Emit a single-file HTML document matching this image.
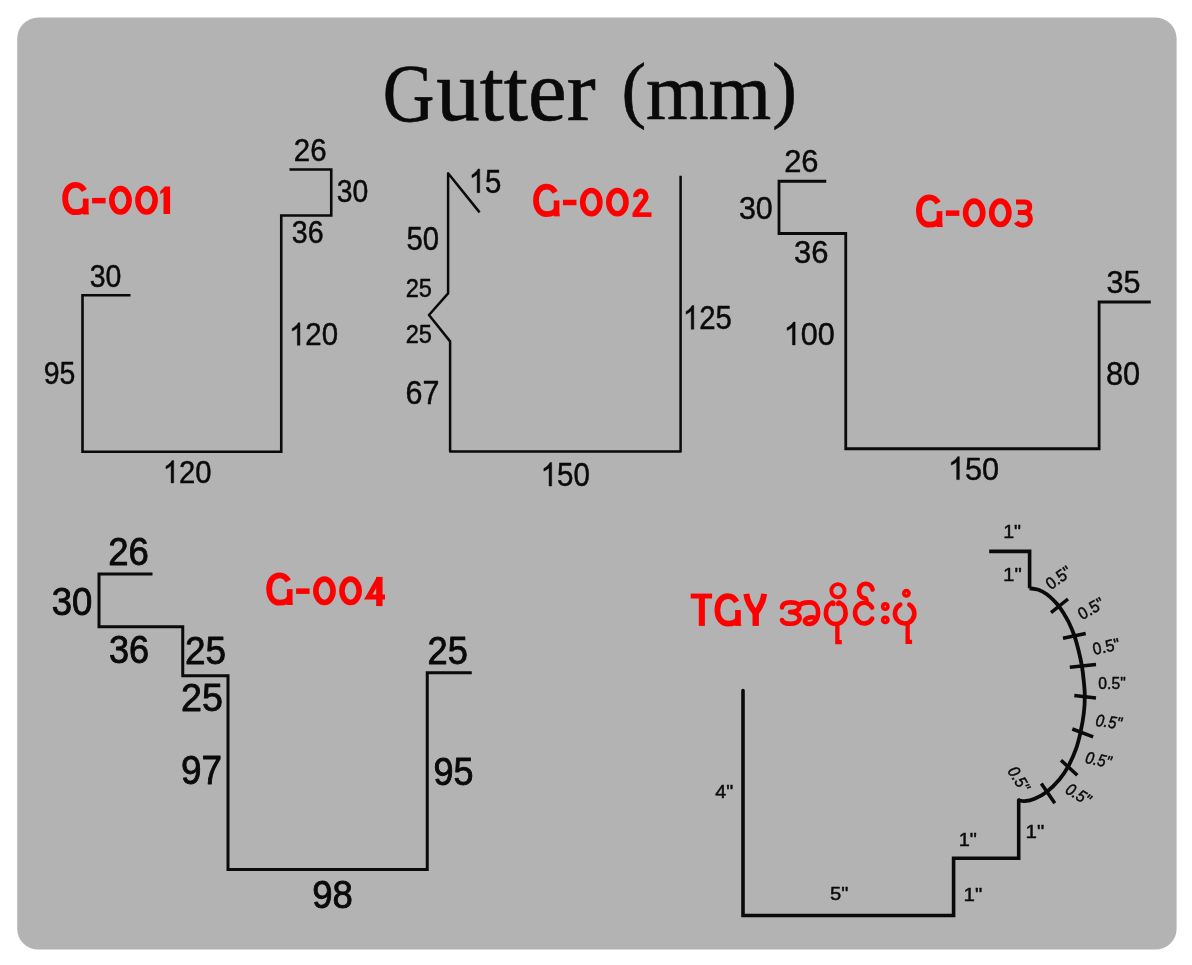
<!DOCTYPE html>
<html>
<head>
<meta charset="utf-8">
<title>Gutter (mm)</title>
<style>
html,body{margin:0;padding:0;background:#fff;}
body{width:1192px;height:965px;overflow:hidden;font-family:"Liberation Sans",sans-serif;}
svg{display:block;will-change:transform;}
</style>
</head>
<body>
<svg width="1192" height="965" viewBox="0 0 1192 965">
<rect x="17.2" y="17.6" width="1159.4" height="932" rx="21" ry="21" fill="#b3b3b3"/>
<g fill="#0a0a0a" stroke="#0a0a0a" stroke-linejoin="round">
<g transform="matrix(0.2941 0 0 0.3099 293.83 161.49)"><text x="0" y="0" font-family="Liberation Sans" font-size="100" font-style="normal" stroke-width="1.49">26</text></g>
<g transform="matrix(0.2835 0 0 0.3070 336.67 202.39)"><text x="0" y="0" font-family="Liberation Sans" font-size="100" font-style="normal" stroke-width="1.52">30</text></g>
<g transform="matrix(0.2854 0 0 0.3113 291.76 243.19)"><text x="0" y="0" font-family="Liberation Sans" font-size="100" font-style="normal" stroke-width="1.51">36</text></g>
<g transform="matrix(0.2947 0 0 0.3110 288.96 345.19)"><path transform="translate(0.0 0)" d="M37.26,0 H28.47 V-56.0 Q25.3,-52.98 20.14,-49.95 Q14.99,-46.92 10.89,-45.41 V-53.9 Q18.26,-57.37 23.78,-62.3 Q29.3,-67.24 31.59,-71.88 H37.26 Z" stroke-width="1.49"/><text x="55.6" y="0" font-family="Liberation Sans" font-size="100" font-style="normal" stroke-width="1.49">20</text></g>
<g transform="matrix(0.2845 0 0 0.3141 89.66 287.39)"><text x="0" y="0" font-family="Liberation Sans" font-size="100" font-style="normal" stroke-width="1.50">30</text></g>
<g transform="matrix(0.2843 0 0 0.3070 43.68 383.89)"><text x="0" y="0" font-family="Liberation Sans" font-size="100" font-style="normal" stroke-width="1.52">95</text></g>
<g transform="matrix(0.2928 0 0 0.3103 162.78 482.89)"><path transform="translate(0.0 0)" d="M37.26,0 H28.47 V-56.0 Q25.3,-52.98 20.14,-49.95 Q14.99,-46.92 10.89,-45.41 V-53.9 Q18.26,-57.37 23.78,-62.3 Q29.3,-67.24 31.59,-71.88 H37.26 Z" stroke-width="1.49"/><text x="55.6" y="0" font-family="Liberation Sans" font-size="100" font-style="normal" stroke-width="1.49">20</text></g>
<g transform="matrix(0.2937 0 0 0.3301 468.77 192.67)"><path transform="translate(0.0 0)" d="M37.26,0 H28.47 V-56.0 Q25.3,-52.98 20.14,-49.95 Q14.99,-46.92 10.89,-45.41 V-53.9 Q18.26,-57.37 23.78,-62.3 Q29.3,-67.24 31.59,-71.88 H37.26 Z" stroke-width="1.44"/><text x="55.6" y="0" font-family="Liberation Sans" font-size="100" font-style="normal" stroke-width="1.44">5</text></g>
<g transform="matrix(0.2932 0 0 0.3408 406.43 249.76)"><text x="0" y="0" font-family="Liberation Sans" font-size="100" font-style="normal" stroke-width="1.42">50</text></g>
<g transform="matrix(0.2363 0 0 0.2648 405.72 297.14)"><text x="0" y="0" font-family="Liberation Sans" font-size="100" font-style="normal" stroke-width="1.80">25</text></g>
<g transform="matrix(0.2363 0 0 0.2648 405.72 343.44)"><text x="0" y="0" font-family="Liberation Sans" font-size="100" font-style="normal" stroke-width="1.80">25</text></g>
<g transform="matrix(0.3050 0 0 0.3394 405.48 404.36)"><text x="0" y="0" font-family="Liberation Sans" font-size="100" font-style="normal" stroke-width="1.40">67</text></g>
<g transform="matrix(0.2954 0 0 0.3260 540.65 485.97)"><path transform="translate(0.0 0)" d="M37.26,0 H28.47 V-56.0 Q25.3,-52.98 20.14,-49.95 Q14.99,-46.92 10.89,-45.41 V-53.9 Q18.26,-57.37 23.78,-62.3 Q29.3,-67.24 31.59,-71.88 H37.26 Z" stroke-width="1.45"/><text x="55.6" y="0" font-family="Liberation Sans" font-size="100" font-style="normal" stroke-width="1.45">50</text></g>
<g transform="matrix(0.2934 0 0 0.3288 682.87 329.17)"><path transform="translate(0.0 0)" d="M37.26,0 H28.47 V-56.0 Q25.3,-52.98 20.14,-49.95 Q14.99,-46.92 10.89,-45.41 V-53.9 Q18.26,-57.37 23.78,-62.3 Q29.3,-67.24 31.59,-71.88 H37.26 Z" stroke-width="1.45"/><text x="55.6" y="0" font-family="Liberation Sans" font-size="100" font-style="normal" stroke-width="1.45">25</text></g>
<g transform="matrix(0.3088 0 0 0.3211 784.16 172.28)"><text x="0" y="0" font-family="Liberation Sans" font-size="100" font-style="normal" stroke-width="1.43">26</text></g>
<g transform="matrix(0.3049 0 0 0.3211 738.88 218.98)"><text x="0" y="0" font-family="Liberation Sans" font-size="100" font-style="normal" stroke-width="1.44">30</text></g>
<g transform="matrix(0.3097 0 0 0.3211 794.06 263.08)"><text x="0" y="0" font-family="Liberation Sans" font-size="100" font-style="normal" stroke-width="1.43">36</text></g>
<g transform="matrix(0.3059 0 0 0.3178 783.73 344.88)"><path transform="translate(0.0 0)" d="M37.26,0 H28.47 V-56.0 Q25.3,-52.98 20.14,-49.95 Q14.99,-46.92 10.89,-45.41 V-53.9 Q18.26,-57.37 23.78,-62.3 Q29.3,-67.24 31.59,-71.88 H37.26 Z" stroke-width="1.44"/><text x="55.6" y="0" font-family="Liberation Sans" font-size="100" font-style="normal" stroke-width="1.44">00</text></g>
<g transform="matrix(0.3058 0 0 0.3225 1106.38 292.93)"><text x="0" y="0" font-family="Liberation Sans" font-size="100" font-style="normal" stroke-width="1.43">35</text></g>
<g transform="matrix(0.3078 0 0 0.3282 1105.97 385.27)"><text x="0" y="0" font-family="Liberation Sans" font-size="100" font-style="normal" stroke-width="1.42">80</text></g>
<g transform="matrix(0.3072 0 0 0.3192 947.92 479.58)"><path transform="translate(0.0 0)" d="M37.26,0 H28.47 V-56.0 Q25.3,-52.98 20.14,-49.95 Q14.99,-46.92 10.89,-45.41 V-53.9 Q18.26,-57.37 23.78,-62.3 Q29.3,-67.24 31.59,-71.88 H37.26 Z" stroke-width="1.44"/><text x="55.6" y="0" font-family="Liberation Sans" font-size="100" font-style="normal" stroke-width="1.44">50</text></g>
<g transform="matrix(0.3652 0 0 0.3958 108.17 565.20)"><text x="0" y="0" font-family="Liberation Sans" font-size="100" font-style="normal" stroke-width="2.23">26</text></g>
<g transform="matrix(0.3655 0 0 0.3937 51.64 615.31)"><text x="0" y="0" font-family="Liberation Sans" font-size="100" font-style="normal" stroke-width="2.24">30</text></g>
<g transform="matrix(0.3612 0 0 0.3915 108.96 662.51)"><text x="0" y="0" font-family="Liberation Sans" font-size="100" font-style="normal" stroke-width="2.26">36</text></g>
<g transform="matrix(0.3696 0 0 0.3803 185.05 663.72)"><text x="0" y="0" font-family="Liberation Sans" font-size="100" font-style="normal" stroke-width="2.27">25</text></g>
<g transform="matrix(0.3770 0 0 0.3873 181.02 711.21)"><text x="0" y="0" font-family="Liberation Sans" font-size="100" font-style="normal" stroke-width="2.22">25</text></g>
<g transform="matrix(0.3683 0 0 0.3972 181.06 783.70)"><text x="0" y="0" font-family="Liberation Sans" font-size="100" font-style="normal" stroke-width="2.22">97</text></g>
<g transform="matrix(0.3623 0 0 0.3873 427.59 664.21)"><text x="0" y="0" font-family="Liberation Sans" font-size="100" font-style="normal" stroke-width="2.27">25</text></g>
<g transform="matrix(0.3598 0 0 0.3915 433.60 785.01)"><text x="0" y="0" font-family="Liberation Sans" font-size="100" font-style="normal" stroke-width="2.26">95</text></g>
<g transform="matrix(0.3647 0 0 0.3944 312.33 908.01)"><text x="0" y="0" font-family="Liberation Sans" font-size="100" font-style="normal" stroke-width="2.24">98</text></g>
<g transform="matrix(0.1962 0 0 0.1812 1003.18 537.50)"><text x="0" y="0" font-family="Liberation Sans" font-size="100" font-style="normal" stroke-width="2.38">1&quot;</text></g>
<g transform="matrix(0.2057 0 0 0.1920 1003.10 581.25)"><text x="0" y="0" font-family="Liberation Sans" font-size="100" font-style="normal" stroke-width="2.26">1&quot;</text></g>
<g transform="matrix(0.2057 0 0 0.1920 1025.60 837.50)"><text x="0" y="0" font-family="Liberation Sans" font-size="100" font-style="normal" stroke-width="2.26">1&quot;</text></g>
<g transform="matrix(0.1994 0 0 0.1812 958.66 846.25)"><text x="0" y="0" font-family="Liberation Sans" font-size="100" font-style="normal" stroke-width="2.37">1&quot;</text></g>
<g transform="matrix(0.2057 0 0 0.1884 963.60 900.50)"><text x="0" y="0" font-family="Liberation Sans" font-size="100" font-style="normal" stroke-width="2.28">1&quot;</text></g>
<g transform="matrix(0.1971 0 0 0.1838 715.36 797.68)"><text x="0" y="0" font-family="Liberation Sans" font-size="100" font-style="normal" stroke-width="2.36">4&quot;</text></g>
<g transform="matrix(0.2018 0 0 0.1857 829.94 900.31)"><text x="0" y="0" font-family="Liberation Sans" font-size="100" font-style="normal" stroke-width="2.32">5&quot;</text></g>
<g transform="matrix(0.7154 0 0 0.8299 382.64 120.54)"><text x="0" y="0" font-family="Liberation Serif" font-size="100" font-style="normal" stroke-width="0.78">G</text></g>
<g transform="matrix(0.8707 0 0 0.8772 436.13 120.42)"><text x="0" y="0" font-family="Liberation Serif" font-size="100" font-style="normal" stroke-width="0.69">utter</text></g>
<g transform="matrix(0.7404 0 0 0.7500 621.54 113.75)"><text x="0" y="0" font-family="Liberation Serif" font-size="100" font-style="normal" stroke-width="0.81">(</text></g>
<g transform="matrix(0.8059 0 0 0.8043 645.89 119.30)"><text x="0" y="0" font-family="Liberation Serif" font-size="100" font-style="normal" stroke-width="0.75">mm</text></g>
<g transform="matrix(0.7404 0 0 0.7500 772.28 113.75)"><text x="0" y="0" font-family="Liberation Serif" font-size="100" font-style="normal" stroke-width="0.81">)</text></g>
<text transform="translate(1058.50 577.60) rotate(-35) translate(-13.63 5.83) scale(0.1566 0.1690)" font-family="Liberation Sans" font-size="100" font-style="normal" stroke-width="2.76">0.5&quot;</text>
<text transform="translate(1091.00 608.50) rotate(-30) translate(-13.63 5.83) scale(0.1566 0.1690)" font-family="Liberation Sans" font-size="100" font-style="normal" stroke-width="2.76">0.5&quot;</text>
<text transform="translate(1106.00 646.40) rotate(-12) translate(-13.63 5.83) scale(0.1566 0.1690)" font-family="Liberation Sans" font-size="100" font-style="normal" stroke-width="2.76">0.5&quot;</text>
<text transform="translate(1112.00 683.50) rotate(0) translate(-13.63 5.83) scale(0.1566 0.1690)" font-family="Liberation Sans" font-size="100" font-style="normal" stroke-width="2.76">0.5&quot;</text>
<text transform="translate(1109.40 721.80) rotate(8) translate(-13.60 5.83) scale(0.1494 0.1690)" font-family="Liberation Sans" font-size="100" font-style="italic" stroke-width="2.83">0.5&quot;</text>
<text transform="translate(1098.90 759.80) rotate(12) translate(-13.60 5.83) scale(0.1494 0.1690)" font-family="Liberation Sans" font-size="100" font-style="italic" stroke-width="2.83">0.5&quot;</text>
<text transform="translate(1078.80 794.40) rotate(32) translate(-13.60 5.83) scale(0.1494 0.1690)" font-family="Liberation Sans" font-size="100" font-style="italic" stroke-width="2.83">0.5&quot;</text>
<text transform="translate(1019.20 779.40) rotate(58) translate(-13.60 5.83) scale(0.1494 0.1690)" font-family="Liberation Sans" font-size="100" font-style="italic" stroke-width="2.83">0.5&quot;</text>
</g>
<g fill="none" stroke="#0a0a0a" stroke-linejoin="miter" stroke-linecap="butt">
<path d="M130.5,295.25 H82.5 V451.75 H281.25 V215.5 H331.25 V169.5 H289.5" stroke-width="2.6"/>
<path d="M479.6,212.4 L448.1,173.2 V293.4 L429,315 L450.1,341.4 V451.5 H680.6 V175.75" stroke-width="2.5" stroke-linejoin="round"/>
<path d="M826.25,181.25 H779 V233.5 H845.75 V448.75 H1099.1 V302 H1150.75" stroke-width="2.8"/>
<path d="M152.5,574 H99 V626.75 H182.75 V675.75 H228 V869.5 H427.25 V672.75 H471.75" stroke-width="3.0"/>
<path d="M989.2,551.4 H1029.6 V588.3" stroke-width="3.6"/>
<path d="M1029.6,588.3 C1031.07,588.55 1035.53,588.80 1038.40,589.80 C1041.27,590.80 1044.02,592.30 1046.80,594.30 C1049.58,596.30 1053.02,599.72 1055.10,601.80 C1057.18,603.88 1057.90,604.93 1059.30,606.80 C1060.70,608.67 1061.97,610.50 1063.50,613.00 C1065.03,615.50 1066.70,618.05 1068.50,621.80 C1070.30,625.55 1072.63,630.77 1074.30,635.50 C1075.97,640.23 1077.25,645.23 1078.50,650.20 C1079.75,655.17 1080.93,660.30 1081.80,665.30 C1082.67,670.30 1083.20,675.10 1083.70,680.20 C1084.20,685.30 1084.78,690.37 1084.80,695.90 C1084.82,701.43 1084.50,707.42 1083.80,713.40 C1083.10,719.38 1081.87,725.98 1080.60,731.80 C1079.33,737.62 1078.22,742.63 1076.20,748.30 C1074.18,753.97 1071.27,760.65 1068.50,765.80 C1065.73,770.95 1063.25,774.83 1059.60,779.20 C1055.95,783.57 1050.77,788.75 1046.60,792.00 C1042.43,795.25 1038.27,797.18 1034.60,798.70 C1030.93,800.22 1027.25,800.85 1024.60,801.10 C1021.95,801.35 1019.68,800.35 1018.70,800.20" stroke-width="3.8"/>
<path d="M1018.7,800 V858.2 H953.6 V915.5 H743 V690.5" stroke-width="3.6" stroke-linecap="round"/>
<path d="M1051,612.6 L1068,599" stroke-width="3.5"/>
<path d="M1063,638.2 L1085.7,633.5" stroke-width="3.5"/>
<path d="M1069.8,667.2 L1096,664.4" stroke-width="3.5"/>
<path d="M1074.3,695.6 L1096,698.1" stroke-width="3.5"/>
<path d="M1072.3,729 L1093.2,736.8" stroke-width="3.5"/>
<path d="M1061,760.2 L1077.3,775.2" stroke-width="3.5"/>
<path d="M1041.3,783.5 L1054.8,803.2" stroke-width="3.5"/>
</g>
<g transform="translate(62.25 181.9)" fill="none" stroke="#f00" stroke-width="5.6">
<path d="M22.1,8.6 C20,4.9 17,2.9 13.4,2.9 C7,2.9 2.9,8.5 2.9,16.6 C2.9,24.7 7,30.3 13.4,30.3 C18.5,30.3 22,28.6 23.3,25.5" stroke-width="5.8"/><path d="M23.45,16.7 V32.6" stroke-width="5.7"/><path d="M26.2,28.5 L26.9,32.6 H26.2 Z" fill="#f00" stroke="none"/>
<path d="M29.85,18.75 H43.35" stroke-width="5.5"/>
<ellipse cx="58.2" cy="18.4" rx="8.6" ry="11.65" stroke-width="5.6"/>
<ellipse cx="84.3" cy="18.4" rx="8.6" ry="11.65" stroke-width="5.6"/>
<path d="M107.85,4.5 H102.6 L98,9.4 V12.4 L101.25,10.4 V32 H107.85 Z" fill="#f00" stroke="none"/>
</g>
<g transform="translate(533.1 183.75)" fill="none" stroke="#f00" stroke-width="5.6">
<path d="M22.1,8.6 C20,4.9 17,2.9 13.4,2.9 C7,2.9 2.9,8.5 2.9,16.6 C2.9,24.7 7,30.3 13.4,30.3 C18.5,30.3 22,28.6 23.3,25.5" stroke-width="5.8"/><path d="M23.45,16.7 V32.6" stroke-width="5.7"/><path d="M26.2,28.5 L26.9,32.6 H26.2 Z" fill="#f00" stroke="none"/>
<path d="M29.85,18.75 H43.35" stroke-width="5.5"/>
<ellipse cx="58.2" cy="18.4" rx="8.6" ry="11.65" stroke-width="5.6"/>
<ellipse cx="84.3" cy="18.4" rx="8.6" ry="11.65" stroke-width="5.6"/>
<path d="M102.6,13.4 A5.1,5.6 0 1 1 112.3,15.4 L102.2,29.4" stroke-width="5.2"/>
<path d="M99.4,30.9 H118.4" stroke-width="4.6"/>
</g>
<g transform="translate(916 194.4)" fill="none" stroke="#f00" stroke-width="5.6">
<path d="M22.1,8.6 C20,4.9 17,2.9 13.4,2.9 C7,2.9 2.9,8.5 2.9,16.6 C2.9,24.7 7,30.3 13.4,30.3 C18.5,30.3 22,28.6 23.3,25.5" stroke-width="5.8"/><path d="M23.45,16.7 V32.6" stroke-width="5.7"/><path d="M26.2,28.5 L26.9,32.6 H26.2 Z" fill="#f00" stroke="none"/>
<path d="M29.85,18.75 H43.35" stroke-width="5.5"/>
<ellipse cx="58.2" cy="18.4" rx="8.6" ry="11.65" stroke-width="5.6"/>
<ellipse cx="84.3" cy="18.4" rx="8.6" ry="11.65" stroke-width="5.6"/>
<path d="M100,7.6 H108.5 C112,7.6 113.7,9.5 113.7,12.6 C113.7,15.8 111.5,18 107.5,18 H101.8 M107.5,18 C112,18 114.4,20.8 114.4,24.4 C114.4,28.3 111.5,30.8 107,30.8 C104,30.8 101.5,29.8 100.2,27.6" stroke-width="5"/>
</g>
<g transform="translate(266.25 572.4)" fill="none" stroke="#f00" stroke-width="5.6">
<path d="M22.1,8.6 C20,4.9 17,2.9 13.4,2.9 C7,2.9 2.9,8.5 2.9,16.6 C2.9,24.7 7,30.3 13.4,30.3 C18.5,30.3 22,28.6 23.3,25.5" stroke-width="5.8"/><path d="M23.45,16.7 V32.6" stroke-width="5.7"/><path d="M26.2,28.5 L26.9,32.6 H26.2 Z" fill="#f00" stroke="none"/>
<path d="M29.85,18.75 H43.35" stroke-width="5.5"/>
<ellipse cx="58.2" cy="18.4" rx="8.6" ry="11.65" stroke-width="5.6"/>
<ellipse cx="84.3" cy="18.4" rx="8.6" ry="11.65" stroke-width="5.6"/>
<path d="M113.1,4.5 V33.7" stroke-width="6.4"/>
<path d="M112.6,6 L102,24.6 H118.75" stroke-width="4.9" stroke-linejoin="miter"/>
</g>
<g fill="none" stroke="#f00" stroke-width="5.8">
<path d="M690.7,596.05 H712.1" stroke-width="4.9"/>
<path d="M701.85,594 V625.9" stroke-width="6.1"/>
<g transform="translate(714.5 593.3)"><path d="M22.1,8.6 C20,4.9 17,2.9 13.4,2.9 C7,2.9 2.9,8.5 2.9,16.6 C2.9,24.7 7,30.3 13.4,30.3 C18.5,30.3 22,28.6 23.3,25.5" stroke-width="5.8"/><path d="M23.45,16.7 V32.6" stroke-width="5.7"/><path d="M26.2,28.5 L26.9,32.6 H26.2 Z" fill="#f00" stroke="none"/></g>
<path d="M746.3,593.8 Q747.6,603.5 755.7,613.2 Q763,603.5 764.2,593.8" stroke-width="6" stroke-linejoin="round"/>
<path d="M755.7,610 V625.9" stroke-width="6.4"/>
</g>
<g fill="none" stroke="#f00" stroke-width="4.6" stroke-linecap="round" stroke-linejoin="round">
<path d="M782,607.4 C782.5,603.6 786.5,602.4 790.5,602.4 C795.5,602.4 799.3,604 799.3,607 C799.3,610 795.5,612.1 790,612.1 C795.5,612.1 799.6,614.3 799.6,617.8 C799.6,621.6 795.5,623.8 790.5,623.8 C786.5,623.8 782.8,622.8 782,620"/>
<path d="M799.2,606 C800,603.8 805,602.4 810,602.4 C815.3,602.4 818.1,607 818.1,612.3 C818.1,619.5 814.5,624 809.2,624 C806.5,624 804.8,622.8 804.9,621.2 C805,618.8 808.5,617.2 812,617.2 C814.3,617.2 815.3,618.3 815.2,619.2"/>
<circle cx="837.95" cy="590.75" r="6.6" stroke-width="3.9"/>
<path d="M833.4,604 C833.6,602.5 832.5,602.4 831.5,603 C827.5,604.8 825.9,609 825.9,613.5 A9.85,10.6 0 0 0 845.6,613.5 C845.6,609 844,604.8 840,603 C839,602.4 838,602.5 838.2,604"/>
<path d="M837.35,624.7 V642.05 H841.8" stroke-width="4.3" stroke-linecap="butt" stroke-linejoin="miter"/>
<path d="M872.14,607.59 A9.25,10.4 0 1 0 872.14,618.61"/>
<path d="M872.6,589.6 C872,586 869,583.7 865.5,583.7 C861.8,583.7 859,587 859,591.2 C859,595.3 862,598.3 865.2,598.3 C866.2,598.5 866.6,599.3 866.6,602.4"/>
<circle cx="885.3" cy="606.5" r="4.45" fill="#f00" stroke="none"/>
<circle cx="885.3" cy="619.9" r="4.45" fill="#f00" stroke="none"/>
<circle cx="885.3" cy="606.5" r="0.9" fill="#ff8a50" stroke="none"/>
<circle cx="885.3" cy="619.9" r="0.9" fill="#ff8a50" stroke="none"/>
<path d="M900.25,604.59 A9.7,10.0 0 1 0 909.35,604.75"/>
<circle cx="906.4" cy="593.3" r="4.45" fill="#f00" stroke="none"/>
<circle cx="906.4" cy="593.3" r="0.9" fill="#ff8a50" stroke="none"/>
<path d="M907.65,624.7 V641.85 H912.1" stroke-width="4.3" stroke-linecap="butt" stroke-linejoin="miter"/>
</g>
</svg>
</body>
</html>
